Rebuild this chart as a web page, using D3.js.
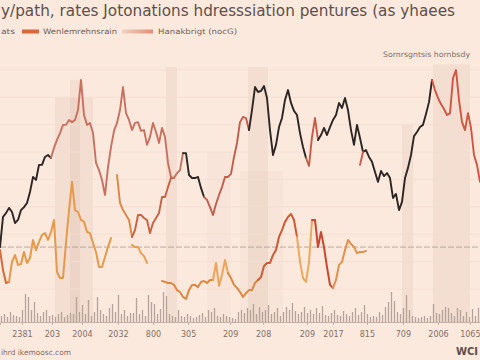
<!DOCTYPE html>
<html><head><meta charset="utf-8">
<script src="https://cdn.jsdelivr.net/npm/d3@7"></script>
<style>body{margin:0;background:#fce9de;}svg{display:block;font-family:"DejaVu Sans",Verdana,sans-serif}</style>
</head><body><svg id="c" width="480" height="360"></svg>
<script>
// ---- text ----
const title = "y/path, rates Jotonations hdresssiation pentures (as yhaees";
const legendLabels = ["ats", "Wenlemrehnsrain", "Hanakbrigt (nocG)"];
const sideLabel = "Sornrsgntsis hornbsdy";
const sourceLabel = "ihrd ikemoosc.com";
const brandLabel = "WCI";
// ---- x axis ticks (period index) ----
const tickIdx = [7.3, 17.3, 27.3, 39.3, 51, 62.7, 76.7, 87.7, 102.3, 111, 122.3, 134.3, 146, 156.6];
const tickLabels = ["2381", "203", "2004", "2032", "800", "305", "209", "208", "209", "2017", "815", "709", "2006", "1065"];
// ---- main rate line (index 0..160) ----
const mainRate = [1.53,2.63,2.77,2.96,2.81,2.41,2.52,2.88,2.99,3.14,3.54,4.09,3.98,4.53,4.53,4.82,4.89,4.78,5.15,5.44,
5.69,5.99,5.99,6.17,6.09,6.17,6.53,7.63,6.35,5.99,6.06,5.69,4.60,4.34,3.98,3.43,4.45,5.18,5.77,6.06,
6.53,7.37,6.42,6.17,5.80,6.06,6.09,5.77,5.80,5.26,5.55,6.06,5.73,5.33,5.88,5.55,4.60,4.09,4.05,4.23,
4.34,4.96,4.96,4.16,4.05,4.05,4.09,3.69,3.36,3.25,2.99,2.70,3.10,3.43,3.72,4.09,4.09,4.20,4.82,5.33,
6.09,6.28,6.24,5.80,6.53,7.37,7.19,7.23,7.41,6.97,5.80,4.89,5.26,5.91,6.24,6.90,7.26,6.79,6.50,6.35,
5.69,5.18,4.78,4.49,5.55,6.24,5.44,5.62,5.88,5.62,5.91,6.17,6.35,6.79,6.61,6.97,6.53,5.80,5.26,5.99,
5.51,5.00,5.07,4.82,4.64,4.27,3.91,4.31,4.12,4.23,4.05,3.32,3.47,2.88,3.18,4.05,4.42,4.89,5.58,5.73,
5.91,5.99,6.39,6.82,7.63,7.26,6.97,6.75,6.57,6.35,6.42,7.70,7.99,6.90,6.09,5.80,6.42,5.88,4.89,4.53,3.91];
const mainStart = 0;
// ---- second red-orange line ----
const midRate = [4.16,3.14,2.88,2.70,2.52,1.90,2.15,2.70,2.70,2.59,2.52,2.04,2.41,2.59,2.77,3.36,3.36,3.72,4.05,4.05];
const midStart = 39;
// ---- short orange line ----
const shortRate = [1.61,1.53,1.53,1.31,1.20,0.95];
const shortStart = 44;
// ---- accent red bit ----
const accentRate = [4.53,5.00];
const accentStart = 120;
// ---- lower orange line, early ----
const lowRateA = [1.42,0.69,0.22,0.26,0.99,1.24,0.88,0.91,1.35,0.95,1.13,1.79,1.42,1.72,1.97,2.04,1.79,2.08,2.52,0.62,
0.40,0.40,1.68,2.88,3.91,2.88,2.81,2.52,2.45,2.08,2.04,1.68,1.35,0.80,0.80,1.17,1.53,1.86];
const lowStartA = 0;
// ---- lower orange line, later ----
const lowRateB = [0.29,0.26,0.22,0.22,0.15,-0.04,-0.11,-0.29,-0.36,-0.04,0.15,0.15,0.07,0.26,0.29,0.22,0.33,0.33,0.95,0.11,
0.51,1.06,0.58,0.40,0.15,0.04,-0.11,-0.29,-0.15,-0.04,-0.04,0.22,0.33,0.44,0.84,0.95,0.95,1.24,1.42,1.90,
2.15,2.45,2.63,2.74,2.52,1.90,0.99,0.40,0.26,0.99,2.52,2.52,1.53,2.08,1.53,0.80,0.15,0.04,0.33,0.88,
0.99,1.42,1.79,1.64,1.53,1.31,1.35,1.35,1.39];
const lowStartB = 54;
// ---- volume ----
const volume = [6,8,5,10,7,6,5,12,28,25,12,20,9,6,10,12,6,7,5,8,10,5,7,9,8,25,10,17,8,22,6,10,25,12,8,6,14,18,10,27,
8,12,6,9,9,24,8,12,6,27,20,18,8,13,30,26,8,6,5,12,6,5,8,6,4,5,7,9,5,12,10,14,6,5,8,6,5,4,3,10,
12,9,14,12,18,8,15,10,12,17,8,10,14,6,10,15,12,19,11,8,10,15,9,12,8,14,9,16,7,6,9,12,7,6,11,8,6,10,14,7,
10,17,8,5,6,5,10,7,15,20,30,21,10,8,14,27,12,6,5,4,5,6,4,6,18,9,8,12,15,14,9,6,14,12,6,10,5,13,6,14];
// ---- shaded periods [startIdx, endIdx, topValue] ----
const bandStart = [18.3, 23.3, 55.3, 82.7, 134, 144.3];
const bandEnd   = [31, 26.7, 59, 89.3, 137.7, 156.7];
const bandTop   = [7.0, 7.63, 8.1, 8.1, 6.0, 8.2];
const faintStart = [69, 80];
const faintEnd = [77, 94.3];
const faintTop = [5.0, 4.3];
const refLevel = 1.53;
const gridLevels = [0,1,2,3,4,5,6,7,8];

// ---- styles ----
const mainColors = [[0,17,"#2b2523"],[17,61,"#c9705f"],[61,68,"#2b2523"],[68,83,"#c25d4c"],[83,102,"#2b2523"],[102,106,"#c85a47"],[106,144,"#2b2523"],[144,160,"#cf5540"]];
const midColors = [[39,44,"#de8445"],[44,58,"#c9603f"]];
const lowAColors = [[0,3,"#d66a3a"],[3,37,"#e59a4a"]];
const lowBColors = [[54,71,"#e0863e"],[71,76,"#eba55a"],[76,86,"#e0863e"],[86,99,"#cf5a32"],[99,104,"#eba860"],[104,111,"#c9472c"],[111,122,"#e4904a"]];

const svg = d3.select("#c");
const x = d3.scaleLinear().domain([0,160]).range([0,480]);
const y = d3.scaleLinear().domain([0,8]).range([289,69.8]);
const yv = d3.scaleLinear().domain([0,40]).range([322,282]);

// bands
const g0 = svg.append("g");
g0.selectAll("rect.f").data(faintStart).join("rect")
  .attr("x",(d,i)=>x(d)).attr("width",(d,i)=>x(faintEnd[i])-x(d))
  .attr("y",(d,i)=>y(faintTop[i])).attr("height",(d,i)=>yv(0)-y(faintTop[i]))
  .attr("fill","#f8e4d8");
g0.selectAll("rect.b").data(bandStart).join("rect")
  .attr("x",d=>x(d)).attr("width",(d,i)=>x(bandEnd[i])-x(d))
  .attr("y",(d,i)=>y(bandTop[i])).attr("height",(d,i)=>yv(0)-y(bandTop[i]))
  .attr("fill","rgba(205,170,150,0.18)");

// grid
svg.append("g").selectAll("line").data(gridLevels).join("line")
  .attr("x1",0).attr("x2",480).attr("y1",d=>y(d)).attr("y2",d=>y(d))
  .attr("stroke","#f4ddd1").attr("stroke-width",0.8);
svg.append("line").attr("x1",0).attr("x2",480).attr("y1",y(refLevel)).attr("y2",y(refLevel))
  .attr("stroke","#a8988f").attr("stroke-width",0.8).attr("stroke-dasharray","6,2");

// volume
svg.append("g").selectAll("line").data(volume).join("line")
  .attr("x1",(d,i)=>x(i+0.5)).attr("x2",(d,i)=>x(i+0.5))
  .attr("y1",yv(0)).attr("y2",d=>yv(d))
  .attr("stroke","#b5a399").attr("stroke-width",1.3);

// axis
const ax = svg.append("g").attr("transform",`translate(0,${yv(0)})`)
  .call(d3.axisBottom(x).tickValues(tickIdx).tickFormat((d,i)=>tickLabels[i]).tickSize(3).tickPadding(6));
ax.select(".domain").attr("stroke","#c4b2a6").attr("stroke-width",1);
ax.selectAll(".tick line").attr("stroke","#c4b2a6");
ax.selectAll(".tick text").attr("fill","#7f6f66").attr("font-size",8).attr("font-family","DejaVu Sans, sans-serif");

// lines
function drawSeries(vals, start, colors, width){
  const line = d3.line().x(d=>x(d[0])).y(d=>y(d[1]));
  colors.forEach(([s,e,c])=>{
    const pts = [];
    for(let k=s;k<=e;k++){ const v = vals[k-start]; if(v!==undefined) pts.push([k,v]); }
    svg.append("path").attr("d",line(pts)).attr("fill","none").attr("stroke",c)
      .attr("stroke-width",width).attr("stroke-linejoin","round").attr("stroke-linecap","round");
  });
}
drawSeries(lowRateA, lowStartA, lowAColors, 2);
drawSeries(lowRateB, lowStartB, lowBColors, 2);
drawSeries(shortRate, shortStart, [[44,49,"#e8a050"]], 2);
drawSeries(midRate, midStart, midColors, 1.9);
drawSeries(mainRate, mainStart, mainColors, 1.9);
drawSeries(accentRate, accentStart, [[120,121,"#c85a47"]], 1.9);

// title & legend
svg.append("text").attr("x",1).attr("y",15.5).attr("font-size",15).attr("fill","#5d4f49")
  .attr("textLength",454).attr("lengthAdjust","spacingAndGlyphs").text(title);
const lg = svg.append("g").attr("font-size",7.5).attr("fill","#6e5e56");
lg.append("text").attr("x",1).attr("y",34).attr("textLength",14).attr("lengthAdjust","spacingAndGlyphs").text(legendLabels[0]);
lg.append("rect").attr("x",22).attr("y",29.5).attr("width",17).attr("height",4).attr("fill","#d8683a");
lg.append("text").attr("x",43).attr("y",34).attr("textLength",74).attr("lengthAdjust","spacingAndGlyphs").text(legendLabels[1]);
const grad = svg.append("defs").append("linearGradient").attr("id","lgG");
grad.append("stop").attr("offset","0%").attr("stop-color","#efd3c4");
grad.append("stop").attr("offset","100%").attr("stop-color","#de8f74");
lg.append("rect").attr("x",122).attr("y",29.5).attr("width",31).attr("height",4).attr("fill","url(#lgG)");
lg.append("text").attr("x",158).attr("y",34).attr("textLength",79).attr("lengthAdjust","spacingAndGlyphs").text(legendLabels[2]);
svg.append("text").attr("x",383).attr("y",57).attr("font-size",7.5).attr("fill","#7d6d64")
  .attr("textLength",87).attr("lengthAdjust","spacingAndGlyphs").text(sideLabel);
svg.append("text").attr("x",1).attr("y",355).attr("font-size",7.5).attr("fill","#7d6d64")
  .attr("textLength",70).attr("lengthAdjust","spacingAndGlyphs").text(sourceLabel);
svg.append("text").attr("x",478).attr("y",355).attr("text-anchor","end").attr("font-size",10).attr("font-weight","bold").attr("fill","#5d4f49").text(brandLabel);
</script></body></html>
